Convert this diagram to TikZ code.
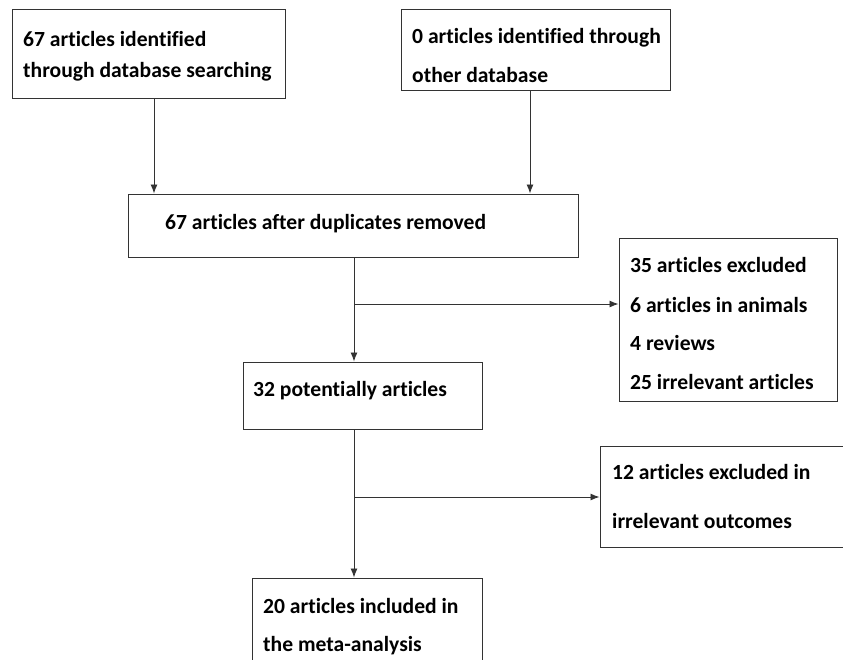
\documentclass[tikz,border=0pt]{standalone}
\usepackage{fontspec}
\setmainfont{Carlito}[Ligatures=NoCommon]
\usetikzlibrary{arrows.meta}
\definecolor{edge}{HTML}{333333}
\tikzset{
  box/.style={draw=edge, line width=1pt, rectangle, inner sep=0pt},
  lbl/.style={anchor=base west, inner sep=0pt, font=\fontsize{21.6}{25}\selectfont\bfseries, text=black},
  arr/.style={draw=edge, line width=0.9pt, -{Latex[length=9pt,width=7pt]}}
}
\begin{document}
\begin{tikzpicture}[x=1pt,y=-1pt]
\useasboundingbox (0,0) rectangle (843,659);
\clip (0,0) rectangle (843,659);
% boxes
\node[box, minimum width=273pt, minimum height=89pt] (b1) at (148.5,53.5) {};
\node[box, minimum width=269pt, minimum height=81pt] (b2) at (535.5,49.5) {};
\node[box, minimum width=450pt, minimum height=63pt] (b3) at (353,225.5) {};
\node[box, minimum width=239pt, minimum height=67pt] (b4) at (362.5,395.5) {};
\node[box, minimum width=218pt, minimum height=163pt] (b5) at (728,319.5) {};
\node[box, minimum width=260pt, minimum height=101pt] (b6) at (730,496.5) {};
\node[box, minimum width=230pt, minimum height=102pt] (b7) at (367,629) {};
% texts
\node[lbl] (t1a) at (23,46) {67 articles identified};
\node[lbl] (t1b) at (23,77) {through database searching};
\node[lbl] (t2a) at (412,43) {0 articles identified through};
\node[lbl] (t2b) at (412,82) {other database};
\node[lbl] (t3) at (165,229) {67 articles after duplicates removed};
\node[lbl] (t5a) at (630,272) {35 articles excluded};
\node[lbl] (t5b) at (630,312) {6 articles in animals};
\node[lbl] (t5c) at (630,350) {4 reviews};
\node[lbl] (t5d) at (630,389) {25 irrelevant articles};
\node[lbl] (t4) at (253,396) {32 potentially articles};
\node[lbl] (t6a) at (612,479) {12 articles excluded in};
\node[lbl] (t6b) at (612,528) {irrelevant outcomes};
\node[lbl] (t7a) at (263,613) {20 articles included in};
\node[lbl] (t7b) at (263,651) {the meta-analysis};
% connectors
\draw[arr] ([xshift=5.5pt]b1.south) -- ([xshift=5.5pt]b1.south |- b3.north);
\draw[arr] ([xshift=-5.5pt]b2.south) -- ([xshift=-5.5pt]b2.south |- b3.north);
\coordinate (v) at ([xshift=1pt]b3.south);
\draw[arr] (v) -- (v |- b4.north);
\coordinate (j1) at (v |- 0,304);
\draw[arr] (j1) -- (j1 -| b5.west);
\coordinate (v2) at (v |- b4.south);
\draw[arr] (v2) -- (v2 |- b7.north);
\coordinate (j2) at (v2 |- 0,497);
\draw[arr] (j2) -- (j2 -| b6.west);
\end{tikzpicture}
\end{document}
